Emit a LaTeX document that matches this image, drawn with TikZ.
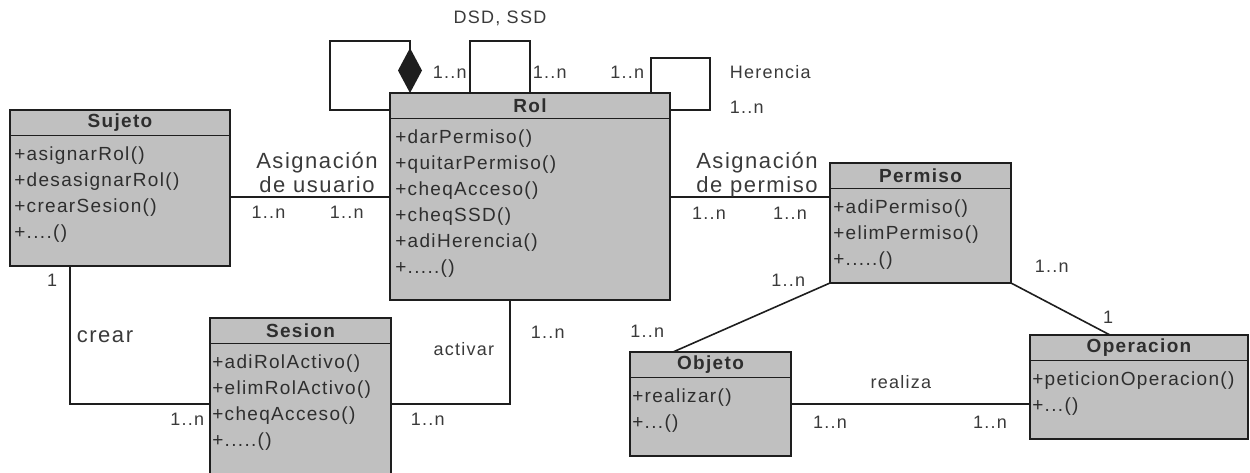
\documentclass[tikz,border=0pt]{standalone}
\usepackage{fontspec}
\setmainfont{Liberation Sans}[LetterSpace=7]
\usepackage{tikz}
\usetikzlibrary{arrows.meta,positioning}
\definecolor{umlgray}{HTML}{C0C0C0}
\definecolor{umlline}{HTML}{1E1E1E}
\definecolor{umltext}{HTML}{2E2E2E}
\definecolor{umllabel}{HTML}{3A3A3A}
\newdimen\upx
\upx=0.75pt
\tikzset{
  classhead/.style={
    rectangle, draw=umlline, fill=umlgray, line width=1.6\upx,
    minimum height=25.5\upx, inner sep=0pt, outer sep=0pt,
    anchor=north west, text=umltext,
    font=\fontsize{14.25pt}{17pt}\selectfont\bfseries
  },
  classbody/.style={
    rectangle, draw=umlline, fill=umlgray, line width=1.6\upx,
    inner sep=0pt, outer sep=0pt, anchor=north
  },
  methodlist/.style={
    anchor=north west, inner sep=0pt, align=left, text=umltext,
    font=\fontsize{14.25pt}{19.5pt}\selectfont
  },
  assoc/.style={
    line width=1.6\upx, draw=umlline
  },
  multlabel/.style={
    inner sep=0pt, text depth=0pt, text=umllabel,
    font=\fontsize{13.5pt}{16pt}\selectfont
  },
  rolelabel/.style={
    inner sep=0pt, text depth=0pt, align=center, text=umllabel,
    font=\fontsize{16.5pt}{18pt}\selectfont
  },
}

\begin{document}
\begin{tikzpicture}[x=0.75pt, y=-0.75pt]
  \useasboundingbox (0,0) rectangle (1250,472);
  \clip (0,0) rectangle (1250,472);

  % Classes
  \node[classhead, minimum width=220\upx] (sujeto) at (10,110) {Sujeto};
  \node[classbody, minimum width=220\upx, minimum height=130.5\upx, below=0pt of sujeto] (sujetoB) {};
  \node[methodlist] (sujetoM) at ([shift={(4,7)}]sujetoB.north west)
    {\strut+asignarRol()\\+desasignarRol()\\+crearSesion()\\+....()};

  \node[classhead, minimum width=280\upx] (rol) at (390,93) {Rol};
  \node[classbody, minimum width=280\upx, minimum height=181.5\upx, below=0pt of rol] (rolB) {};
  \node[methodlist] (rolM) at ([shift={(5,7)}]rolB.north west)
    {\strut+darPermiso()\\+quitarPermiso()\\+cheqAcceso()\\+cheqSSD()\\+adiHerencia()\\+.....()};

  \node[classhead, minimum width=181\upx] (permiso) at (830,163) {Permiso};
  \node[classbody, minimum width=181\upx, minimum height=94.5\upx, below=0pt of permiso] (permisoB) {};
  \node[methodlist] (permisoM) at ([shift={(3,7)}]permisoB.north west)
    {\strut+adiPermiso()\\+elimPermiso()\\+.....()};

  \node[classhead, minimum width=181\upx] (sesion) at (210,318) {Sesion};
  \node[classbody, minimum width=181\upx, minimum height=132.5\upx, below=0pt of sesion] (sesionB) {};
  \node[methodlist] (sesionM) at ([shift={(2,7)}]sesionB.north west)
    {\strut+adiRolActivo()\\+elimRolActivo()\\+cheqAcceso()\\+.....()};

  \node[classhead, minimum width=161\upx] (objeto) at (630,352) {Objeto};
  \node[classbody, minimum width=161\upx, minimum height=78.5\upx, below=0pt of objeto] (objetoB) {};
  \node[methodlist] (objetoM) at ([shift={(2,7)}]objetoB.north west)
    {\strut+realizar()\\+...()};

  \node[classhead, minimum width=218\upx] (operacion) at (1030,335) {Operacion};
  \node[classbody, minimum width=218\upx, minimum height=78.5\upx, below=0pt of operacion] (operacionB) {};
  \node[methodlist] (operacionM) at ([shift={(2,7)}]operacionB.north west)
    {\strut+peticionOperacion()\\+...()};

  % Asignaciones
  \draw[assoc] ([yshift=4\upx]sujetoB.east) -- ([yshift=4\upx]sujetoB.east -| rolB.west)
    node[rolelabel, midway, above=3.5\upx, xshift=7\upx] {Asignación\\de usuario}
    node[multlabel, pos=0.24, below=9\upx] {1..n}
    node[multlabel, pos=0.73, below=9\upx] {1..n};
  \draw[assoc] ([yshift=12.25\upx]rolB.east) -- ([yshift=12.25\upx]rolB.east -| permisoB.west)
    node[rolelabel, midway, above=3.5\upx, xshift=7\upx] {Asignación\\de permiso}
    node[multlabel, pos=0.244, below=9\upx] {1..n}
    node[multlabel, pos=0.75, below=9\upx] {1..n};

  % Self associations of Rol
  \draw[assoc, -{Diamond[length=33.75pt, width=18pt]}] ([yshift=-4.25\upx]rol.west)
    -- ++(-60,0) -- ++(0,-69) -- ++(80,0) -- ([xshift=20\upx]rol.north west)
    node[multlabel, pos=0.6, right=22\upx] {1..n};
  \draw[assoc] ([xshift=80\upx]rol.north west) -- ++(0,-52) -- ++(60,0)
    node[multlabel, midway, above=16.5\upx] {DSD, SSD}
    -- ([xshift=140\upx]rol.north west)
    node[multlabel, pos=0.6, right=2\upx] {1..n};
  \draw[assoc] ([xshift=261\upx]rol.north west) -- ++(0,-35)
    node[multlabel, pos=0.6, left=6\upx] {1..n}
    -- ++(59,0) -- ++(0,52)
    node[multlabel, pos=0.27, right=19\upx] {Herencia}
    node[multlabel, pos=0.94, right=19\upx] {1..n}
    -- ([yshift=-4.25\upx]rol.east);

  % Permiso, Objeto, Operacion
  \draw[assoc] (permisoB.south west) -- ([xshift=-37.5\upx]objeto.north)
    node[multlabel, pos=0, anchor=east, shift={(-24,-3)}] {1..n}
    node[multlabel, pos=1, anchor=south east, shift={(-8,-13.5)}] {1..n};
  \draw[assoc] (permisoB.south east) -- ([xshift=-29\upx]operacion.north)
    node[multlabel, pos=0, anchor=west, shift={(23,-17)}] {1..n}
    node[multlabel, pos=1, anchor=south, shift={(-2,-10.5)}] {1};
  \draw[assoc] ([yshift=12.75\upx]objetoB.east) -- ([yshift=12.75\upx]objetoB.east -| operacionB.west)
    node[multlabel, pos=0.46, above=14.5\upx] {realiza}
    node[multlabel, pos=0.163, below=11\upx] {1..n}
    node[multlabel, pos=0.833, below=11\upx] {1..n};

  % Sesion
  \draw[assoc] ([xshift=-50\upx]sujetoB.south) |- ([yshift=5.75\upx]sesionB.west)
    node[multlabel, pos=0, anchor=north east, shift={(-12,7)}] {1}
    node[rolelabel, pos=0.254, right=6\upx] {crear}
    node[multlabel, pos=1, anchor=north east, shift={(-5,8)}] {1..n};
  \draw[assoc] ([yshift=5.75\upx]sesionB.east) -| ([xshift=-20\upx]rolB.south)
    node[multlabel, pos=0, anchor=north west, shift={(19,8)}] {1..n}
    node[multlabel, pos=0.764, left=15\upx] {activar}
    node[multlabel, pos=0.846, right=20\upx] {1..n};
\end{tikzpicture}
\end{document}
